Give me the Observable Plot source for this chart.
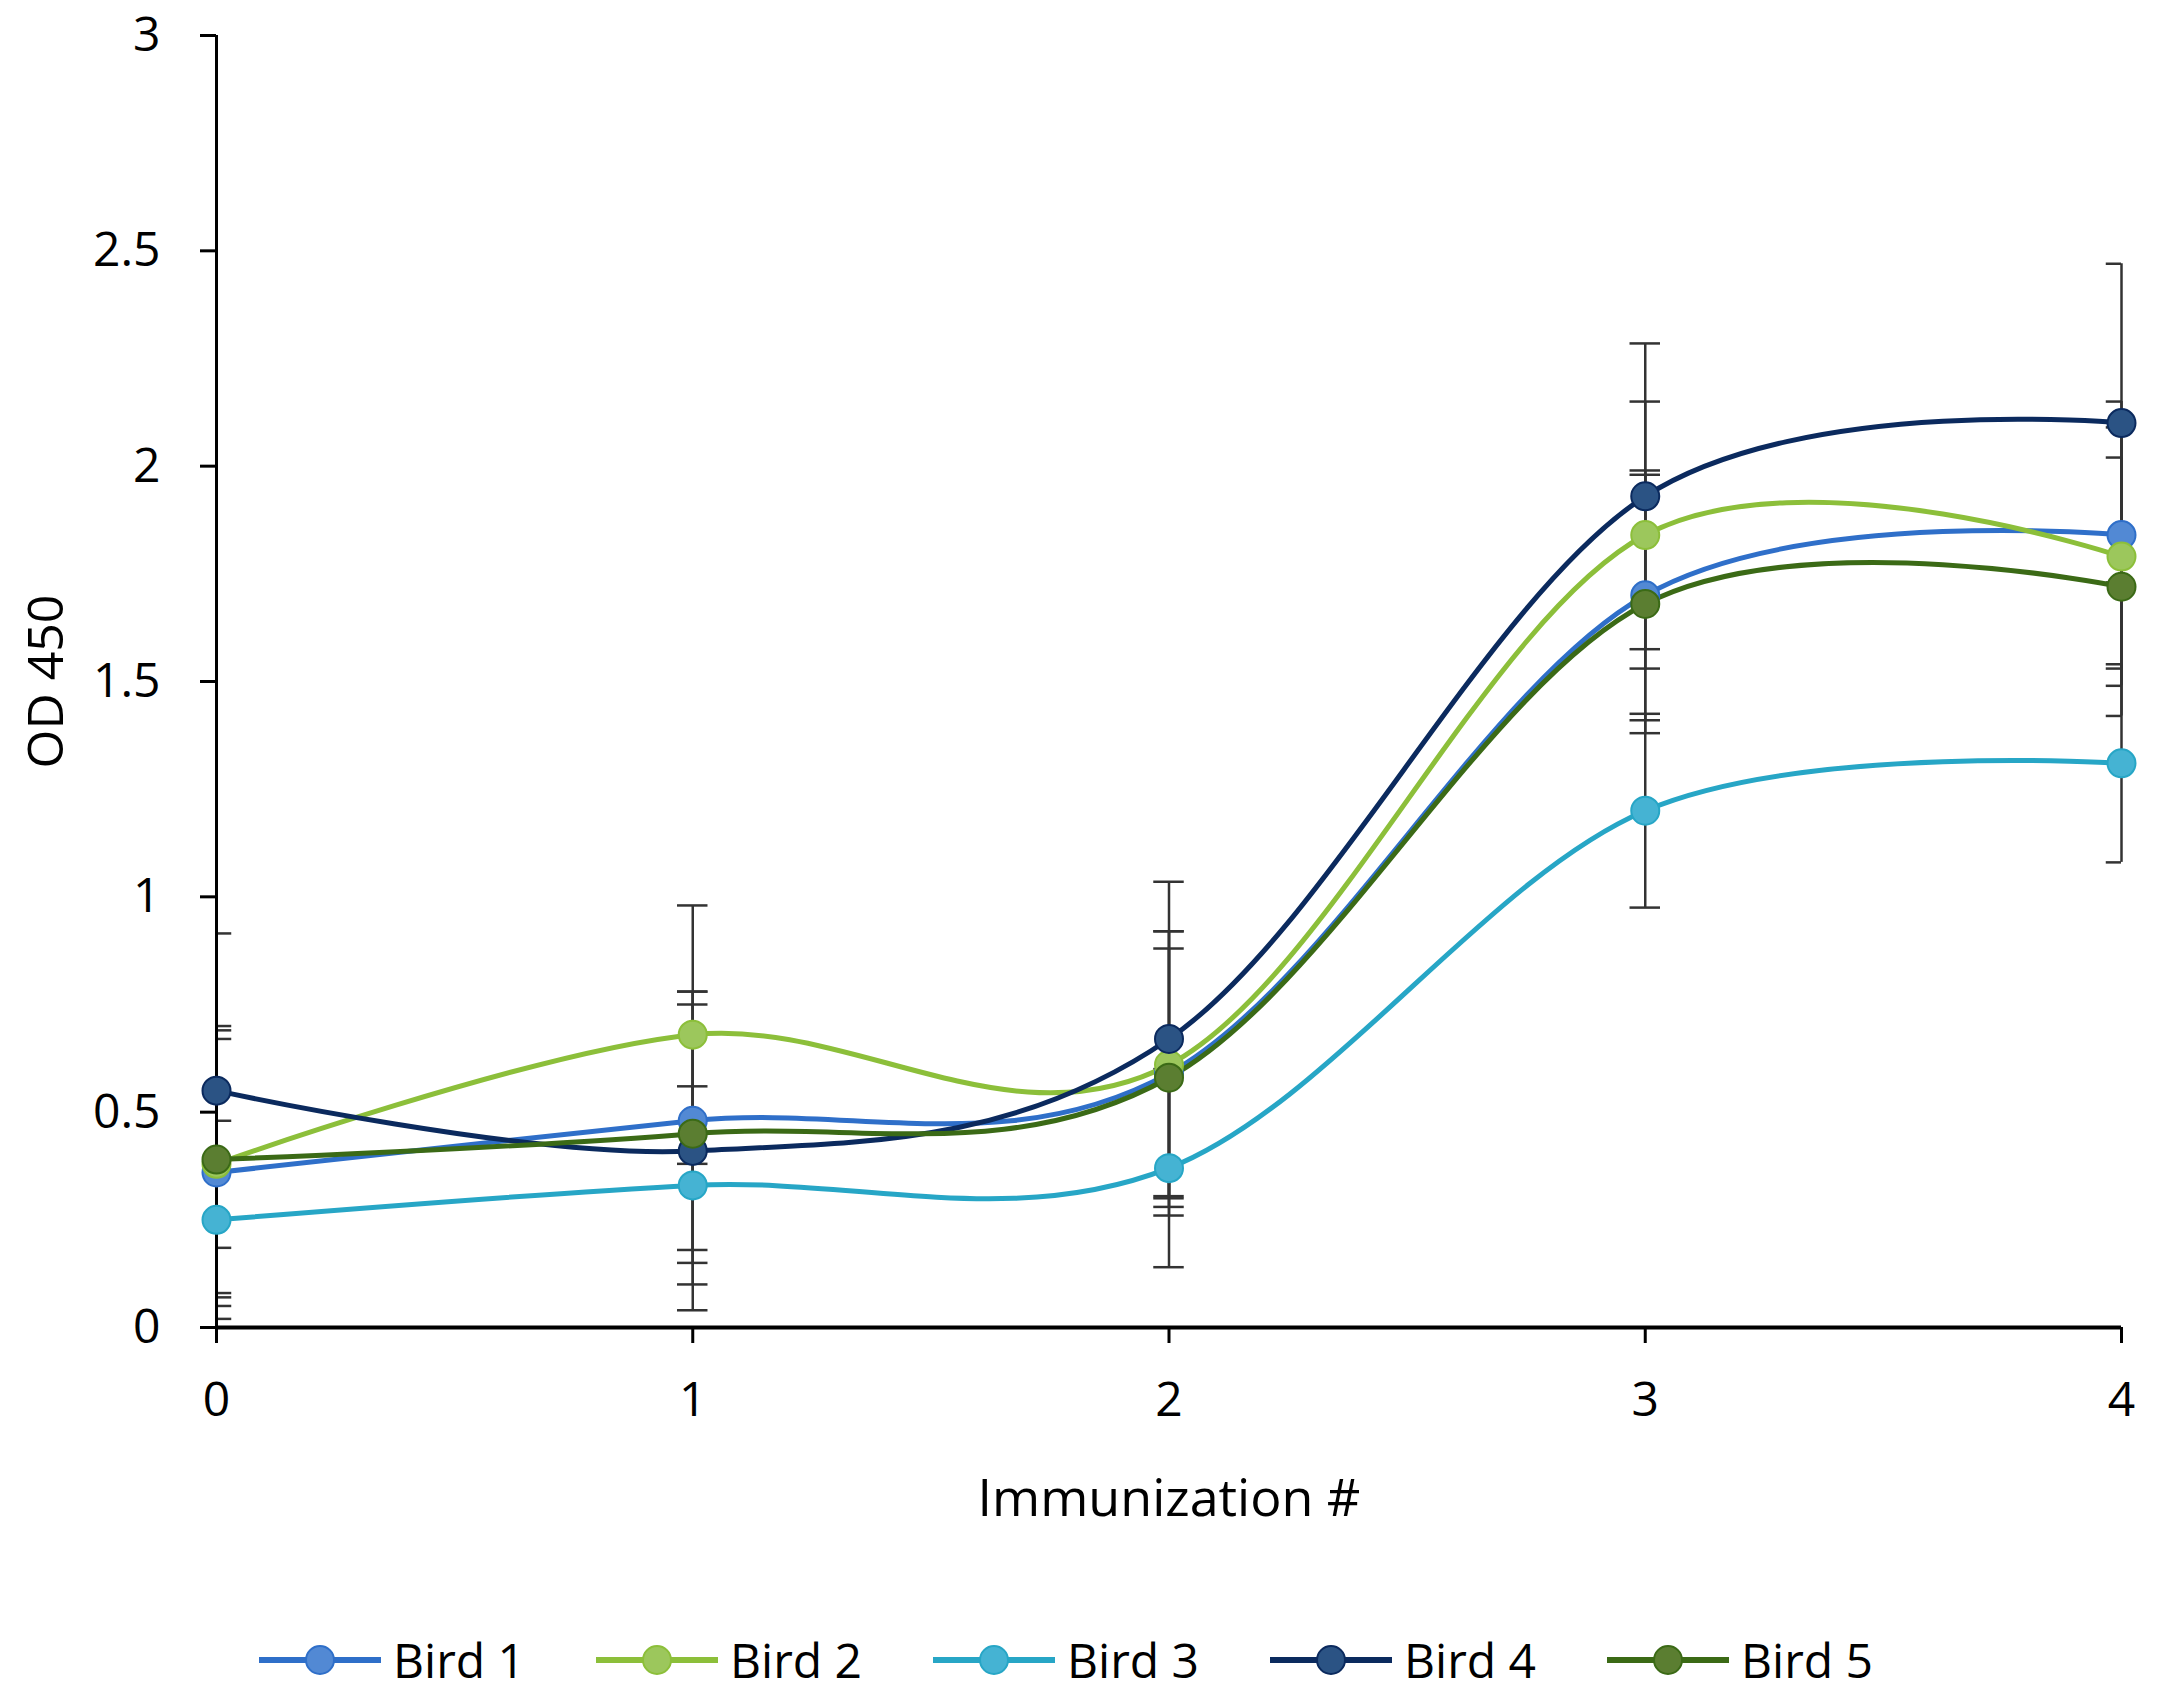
<!DOCTYPE html>
<html>
<head>
<meta charset="utf-8">
<script src="https://cdn.jsdelivr.net/npm/d3@7"></script>
<script src="https://cdn.jsdelivr.net/npm/@observablehq/plot@0.6"></script>
<style>
  html, body { margin: 0; padding: 0; background: #fff; }
  body { width: 2175px; font-family: "Open Sans", "Noto Sans", sans-serif; }
  #legend { display: flex; align-items: center; height: 120px; padding-left: 259px; box-sizing: border-box; }
  .item { display: flex; align-items: center; width: 337px; }
  .item span { font-size: 48px; color: #000; margin-left: 12px; line-height: 1; }
</style>
</head>
<body>
<div id="chart"></div>
<div id="legend"></div>
<script>
const immunization = [0, 1, 2, 3, 4];
const birds = ["Bird 1", "Bird 2", "Bird 3", "Bird 4", "Bird 5"];
const bird1 = [0.36, 0.48, 0.59, 1.70, 1.84];
const bird2 = [0.38, 0.68, 0.61, 1.84, 1.79];
const bird3 = [0.25, 0.33, 0.37, 1.20, 1.31];
const bird4 = [0.55, 0.41, 0.67, 1.93, 2.10];
const bird5 = [0.39, 0.45, 0.58, 1.68, 1.72];
const err1 = [0.31, 0.30, 0.33, 0.29, 0.31];
const err2 = [0.31, 0.30, 0.31, 0.31, 0.30];
const err3 = [0.23, 0.23, 0.23, 0.225, 0.23];
const err4 = [0.365, 0.37, 0.365, 0.355, 0.37];
const err5 = [0.31, 0.30, 0.30, 0.30, 0.30];
const yTicks = [0, 0.5, 1, 1.5, 2, 2.5, 3];
const yTickLabels = ["0", "0.5", "1", "1.5", "2", "2.5", "3"];
const xTicks = [0, 1, 2, 3, 4];

const lineColors = ["#2f6fc9", "#8cbf3a", "#27a6c6", "#0b2a5e", "#3b6a16"];
const dotColors = ["#5289d4", "#9cc75c", "#45b3d3", "#2b5384", "#5b7e31"];

const values = [bird1, bird2, bird3, bird4, bird5];
const errors = [err1, err2, err3, err4, err5];

const series = birds.map((b, i) => immunization.map((x, j) => ({
  bird: b, x, y: values[i][j], lo: values[i][j] - errors[i][j], hi: values[i][j] + errors[i][j]
})));
const all = series.flat();
const caps = all.flatMap(d => [{x: d.x, v: d.lo}, {x: d.x, v: d.hi}]);
const capW = 0.032;
const font = "'Open Sans', 'Noto Sans', sans-serif";

const marks = [
  Plot.ruleX(all, {x: "x", y1: "lo", y2: "hi", stroke: "#333", strokeWidth: 2.5}),
  Plot.ruleY(caps, {y: "v", x1: d => d.x - capW, x2: d => d.x + capW, stroke: "#333", strokeWidth: 2.5, clip: true}),
  Plot.ruleX([0], {stroke: "#000", strokeWidth: 3}),
  Plot.ruleY([0], {stroke: "#000", strokeWidth: 4}),
  Plot.axisY({ticks: yTicks, tickFormat: d => yTickLabels[yTicks.indexOf(d)], tickSize: 16, tickPadding: 40, fontSize: 48, stroke: "#000", strokeWidth: 3, fill: "#000", label: null}),
  Plot.axisX({ticks: xTicks, tickFormat: d => String(d), tickSize: 16, tickPadding: 38, fontSize: 48, stroke: "#000", strokeWidth: 3, fill: "#000", label: null}),
  Plot.text(["OD 450"], {frameAnchor: "left", rotate: -90, dx: -170, fontSize: 50, fill: "#000", textAnchor: "middle", lineAnchor: "middle"}),
  Plot.text(["Immunization #"], {frameAnchor: "bottom", dy: 172, fontSize: 52, fill: "#000", textAnchor: "middle", lineAnchor: "middle"})
];
series.forEach((s, i) => {
  marks.push(Plot.line(s, {x: "x", y: "y", stroke: lineColors[i], strokeWidth: 5, curve: "cardinal", tension: 0}));
});
series.forEach((s, i) => {
  marks.push(Plot.dot(s, {x: "x", y: "y", r: 14, fill: dotColors[i], stroke: lineColors[i], strokeWidth: 2}));
});

const chart = Plot.plot({
  width: 2175,
  height: 1600,
  marginLeft: 216,
  marginRight: 54,
  marginTop: 35,
  marginBottom: 273,
  style: {fontFamily: font, background: "#fff", color: "#000"},
  x: {domain: [0, 4], axis: null},
  y: {domain: [0, 3], axis: null},
  marks
});
document.getElementById("chart").appendChild(chart);

const legend = document.getElementById("legend");
birds.forEach((b, i) => {
  const item = document.createElement("div");
  item.className = "item";
  item.innerHTML = `<svg width="122" height="40" viewBox="0 0 122 40"><line x1="0" y1="20" x2="122" y2="20" stroke="${lineColors[i]}" stroke-width="6"/><circle cx="61" cy="20" r="14" fill="${dotColors[i]}" stroke="${lineColors[i]}" stroke-width="2"/></svg><span>${b}</span>`;
  legend.appendChild(item);
});
</script>
</body>
</html>
